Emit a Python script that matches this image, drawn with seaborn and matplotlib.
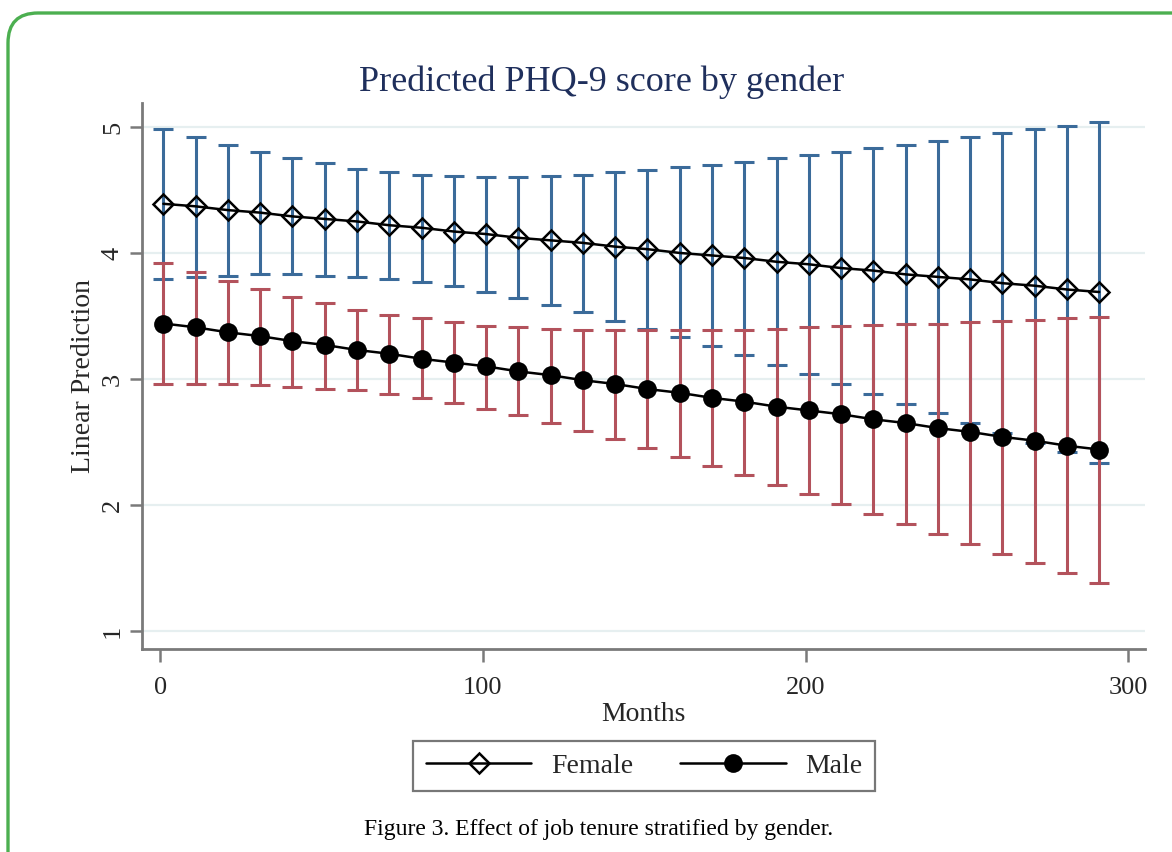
import pandas as pd
import matplotlib.pyplot as plt
import seaborn as sns
from matplotlib.lines import Line2D
from matplotlib.patches import FancyBboxPatch
from matplotlib.transforms import IdentityTransform

# months at which margins were evaluated
months = [1, 11, 21, 31, 41, 51, 61, 71, 81, 91, 101, 111, 121, 131, 141,
          151, 161, 171, 181, 191, 201, 211, 221, 231, 241, 251, 261, 271, 281, 291]

female_mean = [4.39, 4.37, 4.34, 4.32, 4.29, 4.27, 4.25, 4.22, 4.20, 4.17,
               4.15, 4.12, 4.10, 4.08, 4.05, 4.03, 4.00, 3.98, 3.96, 3.93,
               3.91, 3.88, 3.86, 3.83, 3.81, 3.79, 3.76, 3.74, 3.71, 3.69]
female_upper = [4.98, 4.92, 4.86, 4.80, 4.75, 4.71, 4.67, 4.64, 4.62, 4.61,
                4.60, 4.60, 4.61, 4.62, 4.64, 4.66, 4.68, 4.70, 4.72, 4.75,
                4.78, 4.80, 4.83, 4.86, 4.89, 4.92, 4.95, 4.98, 5.01, 5.04]
female_lower = [3.79, 3.81, 3.82, 3.83, 3.83, 3.82, 3.81, 3.79, 3.77, 3.74,
                3.69, 3.64, 3.59, 3.53, 3.46, 3.40, 3.33, 3.26, 3.19, 3.11,
                3.04, 2.96, 2.88, 2.80, 2.73, 2.65, 2.57, 2.49, 2.42, 2.33]

male_mean = [3.44, 3.41, 3.37, 3.34, 3.30, 3.27, 3.23, 3.20, 3.16, 3.13,
             3.10, 3.06, 3.03, 2.99, 2.96, 2.92, 2.89, 2.85, 2.82, 2.78,
             2.75, 2.72, 2.68, 2.65, 2.61, 2.58, 2.54, 2.51, 2.47, 2.44]
male_upper = [3.92, 3.85, 3.78, 3.71, 3.65, 3.60, 3.55, 3.51, 3.48, 3.45,
              3.42, 3.41, 3.40, 3.39, 3.39, 3.39, 3.39, 3.39, 3.39, 3.40,
              3.41, 3.42, 3.43, 3.44, 3.44, 3.45, 3.46, 3.47, 3.48, 3.49]
male_lower = [2.96, 2.96, 2.96, 2.95, 2.94, 2.92, 2.91, 2.88, 2.85, 2.81,
              2.76, 2.71, 2.65, 2.59, 2.52, 2.45, 2.38, 2.31, 2.24, 2.16,
              2.09, 2.01, 1.93, 1.85, 1.77, 1.69, 1.61, 1.54, 1.46, 1.38]

x_ticks = [0, 100, 200, 300]
y_ticks = [1, 2, 3, 4, 5]

blue = "#3b6b9a"
red = "#b3525c"
navy = "#1f2f5c"
axis_gray = "#7a7a7a"

sns.set_style("white")
plt.rcParams["font.family"] = ["Liberation Serif", "DejaVu Serif"]

df = pd.DataFrame({
    "months": months * 2,
    "mean": female_mean + male_mean,
    "lower": female_lower + male_lower,
    "upper": female_upper + male_upper,
    "gender": ["Female"] * len(months) + ["Male"] * len(months),
})

fig = plt.figure(figsize=(11.72, 8.52), dpi=100)
ax = fig.add_axes([0.1212, 0.2383, 0.8558, 0.6408])

# grid lines
for yv in y_ticks:
    ax.axhline(yv, color="#e6eff0", lw=1.6, zorder=0)

# confidence intervals
for g, col in [("Female", blue), ("Male", red)]:
    d = df[df["gender"] == g]
    ax.errorbar(d["months"], d["mean"],
                yerr=[d["mean"] - d["lower"], d["upper"] - d["mean"]],
                fmt="none", ecolor=col, elinewidth=2.2, capsize=7, capthick=2.2,
                zorder=2)

# predicted lines
fem = df[df["gender"] == "Female"]
mal = df[df["gender"] == "Male"]
sns.lineplot(data=fem, x="months", y="mean", ax=ax, color="black", lw=1.8,
             marker="D", markersize=10, markerfacecolor="none",
             markeredgecolor="black", markeredgewidth=1.8, errorbar=None,
             legend=False, zorder=3)
sns.lineplot(data=mal, x="months", y="mean", ax=ax, color="black", lw=1.8,
             marker="o", markersize=13.5, markerfacecolor="black",
             markeredgecolor="black", markeredgewidth=0, errorbar=None,
             legend=False, zorder=4)

ax.set_xlim(-5.6, 305.2)
ax.set_ylim(0.857, 5.19)
ax.set_xticks(x_ticks)
ax.set_yticks(y_ticks)
ax.set_yticklabels([str(v) for v in y_ticks], rotation=90, va="center")
ax.tick_params(axis="both", direction="out", length=9, width=1.8,
               color=axis_gray, labelsize=19, bottom=True, left=True)
ax.tick_params(axis="x", pad=11)
ax.tick_params(axis="y", pad=4)
for s in ["top", "right"]:
    ax.spines[s].set_visible(False)
for s in ["left", "bottom"]:
    ax.spines[s].set_color(axis_gray)
    ax.spines[s].set_linewidth(2)

ax.set_xlabel("Months", fontsize=20, labelpad=2)
ax.set_ylabel("Linear Prediction", fontsize=20, labelpad=4)

fig.text(0.5137, 0.9038, "Predicted PHQ-9 score by gender", ha="center",
         va="center", fontsize=26, color=navy)

handles = [
    Line2D([], [], color="black", lw=1.8, marker="D", markersize=10,
           markerfacecolor="none", markeredgecolor="black", markeredgewidth=1.8),
    Line2D([], [], color="black", lw=1.8, marker="o", markersize=13.5,
           markerfacecolor="black", markeredgewidth=0),
]
leg = fig.legend(handles, ["Female", "Male"], loc="center",
                 bbox_to_anchor=(0.5495, 0.1009), ncol=2, fontsize=20,
                 handlelength=3.8, handletextpad=0.7, columnspacing=1.7,
                 frameon=True, fancybox=False, borderpad=0.45)
leg.get_frame().set_edgecolor("#555555")
leg.get_frame().set_linewidth(1.6)

fig.text(0.5105, 0.026, "Figure 3. Effect of job tenure stratified by gender.",
         ha="center", va="center", fontsize=17, color="black")

# page border
border = FancyBboxPatch((8, -60), 1220, 899,
                        boxstyle="round,pad=0,rounding_size=30",
                        transform=IdentityTransform(), fill=False,
                        edgecolor="#4caf50", lw=2.4)
fig.add_artist(border)

fig.savefig("out.png", dpi=100)
